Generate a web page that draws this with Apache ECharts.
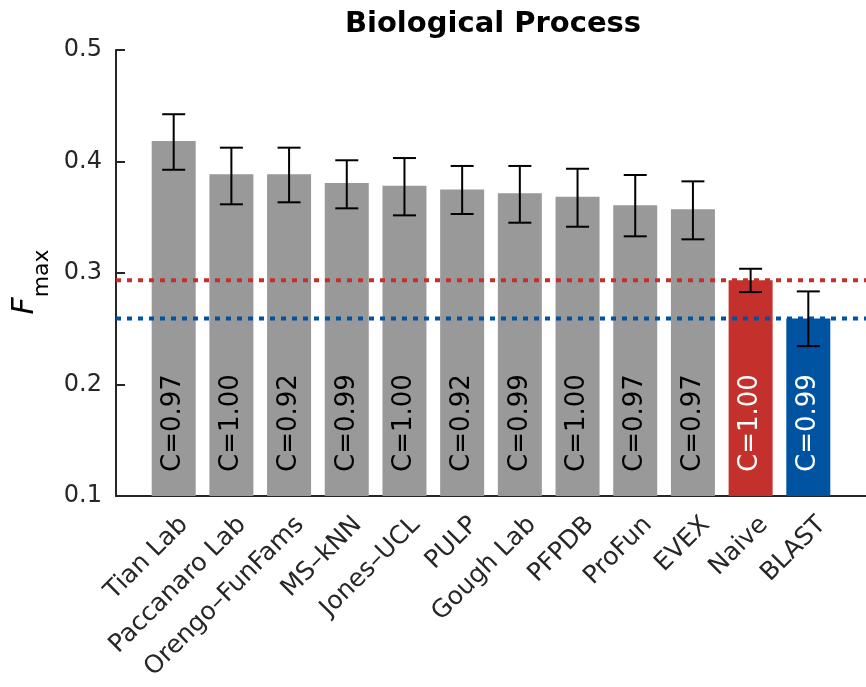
<!DOCTYPE html>
<html><head><meta charset="utf-8">
<script src="https://cdn.jsdelivr.net/npm/echarts@6/dist/echarts.min.js"></script>
<style>html,body{margin:0;padding:0;background:#fff}#c{width:866px;height:687px}</style>
</head><body><div id="c"></div>
<script>
const categories = ["Tian Lab","Paccanaro Lab","Orengo\u2013FunFams","MS\u2013kNN","Jones\u2013UCL","PULP","Gough Lab","PFPDB","ProFun","EVEX","Naive","BLAST"];
const fmax =   [0.4184,0.3885,0.3885,0.3807,0.3783,0.3750,0.3715,0.3684,0.3607,0.3571,0.2936,0.2592];
const errLow = [0.3926,0.3616,0.3634,0.3580,0.3517,0.3529,0.3451,0.3415,0.3329,0.3302,0.2829,0.2344];
const errHigh =[0.4424,0.4124,0.4124,0.4011,0.4031,0.3960,0.3960,0.3935,0.3879,0.3822,0.3038,0.2835];
const coverage = ["0.97","1.00","0.92","0.99","1.00","0.92","0.99","1.00","0.97","0.97","1.00","0.99"];
const yTicks = [0.1,0.2,0.3,0.4,0.5];

const GRAY='#999999', RED='#C4302B', BLUE='#0053A1', AX='#262626';
const barColors = categories.map(c => c==='Naive'?RED:(c==='BLAST'?BLUE:GRAY));
const labelColors = categories.map(c => (c==='Naive'||c==='BLAST')?'#ffffff':'#000000');
const refNaive = fmax[categories.indexOf('Naive')];
const refBlast = fmax[categories.indexOf('BLAST')];
const FONT = 'DejaVu Sans';

const chart = echarts.init(document.getElementById('c'), null, {renderer:'canvas'});
chart.setOption({
  animation:false,
  title:{text:'Biological Process', left:488, textAlign:'center', top:5,
    textStyle:{fontFamily:FONT, fontWeight:'bold', fontSize:29, color:'#000'}},
  grid:[
    {left:116, right:-5, top:50, bottom:191, containLabel:false},
    {left:155, width:696, top:50, bottom:191, containLabel:false}
  ],
  xAxis:[{
    type:'value', gridIndex:0, min:0, max:13, interval:1,
    axisLine:{show:true, onZero:false, lineStyle:{color:AX, width:2}},
    axisTick:{show:false}, axisLabel:{show:false}, splitLine:{show:false}
  },{
    type:'category', gridIndex:1, data:categories, position:'bottom',
    axisLine:{show:false}, axisTick:{show:false}, splitLine:{show:false},
    axisLabel:{show:true, interval:0, rotate:45, margin:25, fontFamily:FONT, fontSize:25, color:AX}
  }],
  yAxis:[{
    type:'value', gridIndex:0, min:yTicks[0], max:yTicks[yTicks.length-1], interval:0.1,
    axisLine:{show:true, lineStyle:{color:AX, width:2}},
    axisTick:{show:true, inside:true, length:9, lineStyle:{color:AX, width:2}},
    axisLabel:{fontFamily:FONT, fontSize:24, color:AX, margin:14, formatter:(v)=>v.toFixed(1)},
    splitLine:{show:false},
    name:'{f|F}{s|max}', nameLocation:'middle', nameGap:62, nameRotate:90,
    nameTextStyle:{color:'#000', rich:{
      f:{fontFamily:FONT, fontStyle:'italic', fontSize:30, color:'#000', verticalAlign:'bottom', padding:[0,0,13,0]},
      s:{fontFamily:FONT, fontSize:22, color:'#000', verticalAlign:'bottom', padding:[0,18,0,0]}
    }}
  },{
    type:'value', gridIndex:1, min:0, max:1, show:false
  }],
  series:[
    {type:'bar', xAxisIndex:0, yAxisIndex:0, barWidth:44, z:2,
     data: fmax.map((v,i)=>({value:[i+1,v], itemStyle:{color:barColors[i]},
       label:{show:true, color:labelColors[i]}})),
     label:{show:true, position:'insideBottom', rotate:90, align:'left', verticalAlign:'middle', distance:24,
       fontFamily:FONT, fontSize:26, formatter:(p)=>'C='+coverage[p.dataIndex]}
    },
    {type:'line', xAxisIndex:0, yAxisIndex:0, z:3, showSymbol:false, symbol:'none',
     data:[[0,refNaive],[13,refNaive]], lineStyle:{color:RED, width:4, type:[5,6]}},
    {type:'line', xAxisIndex:0, yAxisIndex:0, z:3, showSymbol:false, symbol:'none',
     data:[[0,refBlast],[13,refBlast]], lineStyle:{color:BLUE, width:4, type:[5,6]}},
    {type:'custom', xAxisIndex:0, yAxisIndex:0, z:5,
     data: fmax.map((v,i)=>[i+1, errLow[i], errHigh[i]]),
     renderItem:(params, api)=>{
       const x=api.value(0), lo=api.coord([x, api.value(1)]), hi=api.coord([x, api.value(2)]);
       const w=11.5, st={stroke:'#000', lineWidth:2, fill:null};
       return {type:'group', children:[
         {type:'line', shape:{x1:lo[0],y1:lo[1],x2:hi[0],y2:hi[1]}, style:st},
         {type:'line', shape:{x1:lo[0]-w,y1:lo[1],x2:lo[0]+w,y2:lo[1]}, style:st},
         {type:'line', shape:{x1:hi[0]-w,y1:hi[1],x2:hi[0]+w,y2:hi[1]}, style:st}
       ]};
     }}
  ]
});
</script></body></html>
